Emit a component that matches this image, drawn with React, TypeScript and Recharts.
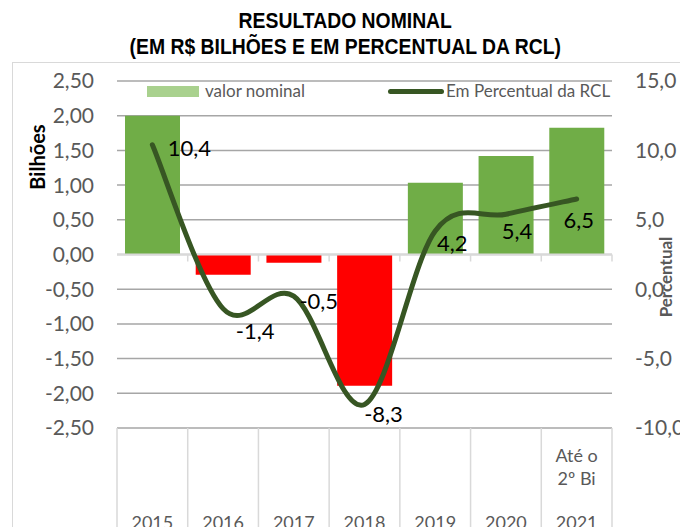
import {
  ComposedChart,
  Bar,
  Line,
  Cell,
  XAxis,
  YAxis,
  CartesianGrid,
  ReferenceLine,
  LabelList,
} from 'recharts';

const years = ['2015', '2016', '2017', '2018', '2019', '2020', '2021'];
const yearNotes = [[], [], [], [], [], [], ['Até o', '2º Bi']];
const nominal = [2.0, -0.29, -0.12, -1.89, 1.035, 1.42, 1.825];
const percentRcl = [10.4, -1.4, -0.5, -8.3, 4.2, 5.4, 6.5];
const leftTicks = [-2.5, -2, -1.5, -1, -0.5, 0, 0.5, 1, 1.5, 2, 2.5];
const rightTicks = [-10, -5, 0, 5, 10, 15];

// label nudges (px) so the data labels sit where Excel put them
const labelShift = [
  [37, 3],
  [32, 22],
  [25, 4],
  [19, 9],
  [17, 12],
  [11, 16],
  [2, 21],
];

const chartData = years.map((y, i) => ({
  year: y,
  notes: yearNotes[i],
  nominal: nominal[i],
  pct: percentRcl[i],
}));

const FONT = 'Lato, "Open Sans", sans-serif';
const GRAY = '#595959';
const POS = '#70AD47';
const NEG = '#FF0000';
const LINE = '#375623';

const W = 680;
const H = 527;
const AXIS_W = 60;
const M = { top: 81, right: 8, bottom: 0, left: 117 - AXIS_W };
const BAND = (W - 117 - 68) / years.length;

const fmt = (d: number) => (v: number) => v.toFixed(d).replace('.', ',');

// Excel-style smoothed line (Catmull-Rom through every point)
function excelSmooth(context: any) {
  let pts: number[][] = [];
  return {
    areaStart() {},
    areaEnd() {},
    lineStart() {
      pts = [];
    },
    point(x: number, y: number) {
      pts.push([+x, +y]);
    },
    lineEnd() {
      if (!pts.length) return;
      context.moveTo(pts[0][0], pts[0][1]);
      for (let i = 0; i < pts.length - 1; i++) {
        const p0 = pts[Math.max(i - 1, 0)];
        const p1 = pts[i];
        const p2 = pts[i + 1];
        const p3 = pts[Math.min(i + 2, pts.length - 1)];
        context.bezierCurveTo(
          p1[0] + (p2[0] - p0[0]) / 6,
          p1[1] + (p2[1] - p0[1]) / 6,
          p2[0] - (p3[0] - p1[0]) / 6,
          p2[1] - (p3[1] - p1[1]) / 6,
          p2[0],
          p2[1]
        );
      }
    },
  };
}

function CategoryTick(props: any) {
  const { x, y, payload, index } = props;
  const notes = chartData[index]?.notes ?? [];
  return (
    <g>
      <line x1={x - BAND / 2} x2={x - BAND / 2} y1={y} y2={H} stroke="#D9D9D9" strokeWidth={1.5} />
      {index === years.length - 1 && (
        <line x1={x + BAND / 2} x2={x + BAND / 2} y1={y} y2={H} stroke="#D9D9D9" strokeWidth={1.5} />
      )}
      {notes.map((n: string, k: number) => (
        <text key={k} x={x} y={y + 34 + k * 23} textAnchor="middle" fontSize={18} fill={GRAY} fontFamily={FONT}>
          {n}
        </text>
      ))}
      <text x={x} y={y + 101} textAnchor="middle" fontSize={18} fill={GRAY} fontFamily={FONT}>
        {payload.value}
      </text>
    </g>
  );
}

function ZeroLine(props: any) {
  const { x1, x2, y1 } = props;
  const band = (x2 - x1) / years.length;
  return (
    <g>
      <line x1={x1} x2={x2} y1={y1} y2={y1} stroke="#D9D9D9" strokeWidth={2} />
      {years.map((_, i) => (
        <line key={i} x1={x1 + band * (i + 1)} x2={x1 + band * (i + 1)} y1={y1} y2={y1 + 7} stroke="#D9D9D9" strokeWidth={1.5} />
      ))}
    </g>
  );
}

function PctLabel(props: any) {
  const { x, y, value, index } = props;
  const [dx, dy] = labelShift[index] ?? [0, 0];
  return (
    <text x={x + dx} y={y + dy} textAnchor="middle" dominantBaseline="central" fontSize={22} fill="#000" fontFamily={FONT}>
      {fmt(1)(value)}
    </text>
  );
}

export default function App() {
  return (
    <div style={{ position: 'absolute', left: 0, top: 0, width: W, height: H, overflow: 'hidden', background: '#fff', fontFamily: FONT }}>
      <div style={{ position: 'absolute', left: 12, top: 62, right: -2, bottom: -2, border: '1px solid #D9D9D9' }} />
      <div
        style={{
          position: 'absolute',
          left: 0,
          width: W,
          top: 8,
          textAlign: 'center',
          fontFamily: '"Liberation Sans", Arial, sans-serif',
          fontWeight: 'bold',
          fontSize: 22,
          lineHeight: '26px',
          color: '#000',
          paddingLeft: 12,
          boxSizing: 'border-box',
          transform: 'scaleX(0.88)',
        }}
      >
        <div>RESULTADO NOMINAL</div>
        <div>(EM R$ BILHÕES E EM PERCENTUAL DA RCL)</div>
      </div>

      <ComposedChart width={W} height={H} data={chartData} margin={M} style={{ position: 'absolute', left: 0, top: 0 }}>
        <CartesianGrid yAxisId="left" vertical={false} stroke="#A6A6A6" strokeWidth={1.5} />
        <XAxis
          dataKey="year"
          height={99}
          axisLine={false}
          tickLine={false}
          tickSize={0}
          tickMargin={0}
          interval={0}
          tick={<CategoryTick />}
        />
        <YAxis
          yAxisId="left"
          domain={[-2.5, 2.5]}
          ticks={leftTicks}
          width={AXIS_W}
          axisLine={false}
          tickLine={false}
          tickSize={0}
          tickMargin={23}
          tickFormatter={fmt(2)}
          tick={{ fontSize: 21, fill: GRAY, fontFamily: FONT }}
        />
        <YAxis
          yAxisId="right"
          orientation="right"
          domain={[-10, 15]}
          ticks={rightTicks}
          width={AXIS_W}
          axisLine={false}
          tickLine={false}
          tickSize={0}
          tickMargin={23}
          tickFormatter={fmt(1)}
          tick={{ fontSize: 21, fill: GRAY, fontFamily: FONT }}
        />
        <ReferenceLine yAxisId="left" y={0} shape={<ZeroLine />} />
        <Bar yAxisId="left" dataKey="nominal" barSize={55} isAnimationActive={false}>
          {chartData.map((d, i) => (
            <Cell key={i} fill={d.nominal >= 0 ? POS : NEG} />
          ))}
        </Bar>
        <Line
          yAxisId="right"
          dataKey="pct"
          type={excelSmooth as any}
          stroke={LINE}
          strokeWidth={5}
          strokeLinecap="round"
          dot={false}
          isAnimationActive={false}
        >
          <LabelList dataKey="pct" content={<PctLabel />} />
        </Line>
      </ComposedChart>

      {/* legend */}
      <div style={{ position: 'absolute', left: 147, top: 86, width: 52, height: 11, background: '#A9D18E' }} />
      <div style={{ position: 'absolute', left: 205, top: 80, fontSize: 17, color: GRAY, lineHeight: '22px' }}>valor nominal</div>
      <div style={{ position: 'absolute', left: 388, top: 89, width: 56, height: 5, borderRadius: 3, background: LINE }} />
      <div style={{ position: 'absolute', left: 446, top: 80, fontSize: 17, color: GRAY, lineHeight: '22px', whiteSpace: 'nowrap' }}>
        Em Percentual da RCL
      </div>

      {/* axis titles */}
      <div
        style={{
          position: 'absolute',
          left: 37,
          top: 157,
          transform: 'translate(-50%, -50%) rotate(-90deg)',
          fontWeight: 'bold',
          fontSize: 20,
          color: '#000',
          whiteSpace: 'nowrap',
        }}
      >
        Bilhões
      </div>
      <div
        style={{
          position: 'absolute',
          left: 665,
          top: 277,
          transform: 'translate(-50%, -50%) rotate(-90deg)',
          fontWeight: 'bold',
          fontSize: 17,
          color: GRAY,
          whiteSpace: 'nowrap',
        }}
      >
        Percentual
      </div>
    </div>
  );
}
